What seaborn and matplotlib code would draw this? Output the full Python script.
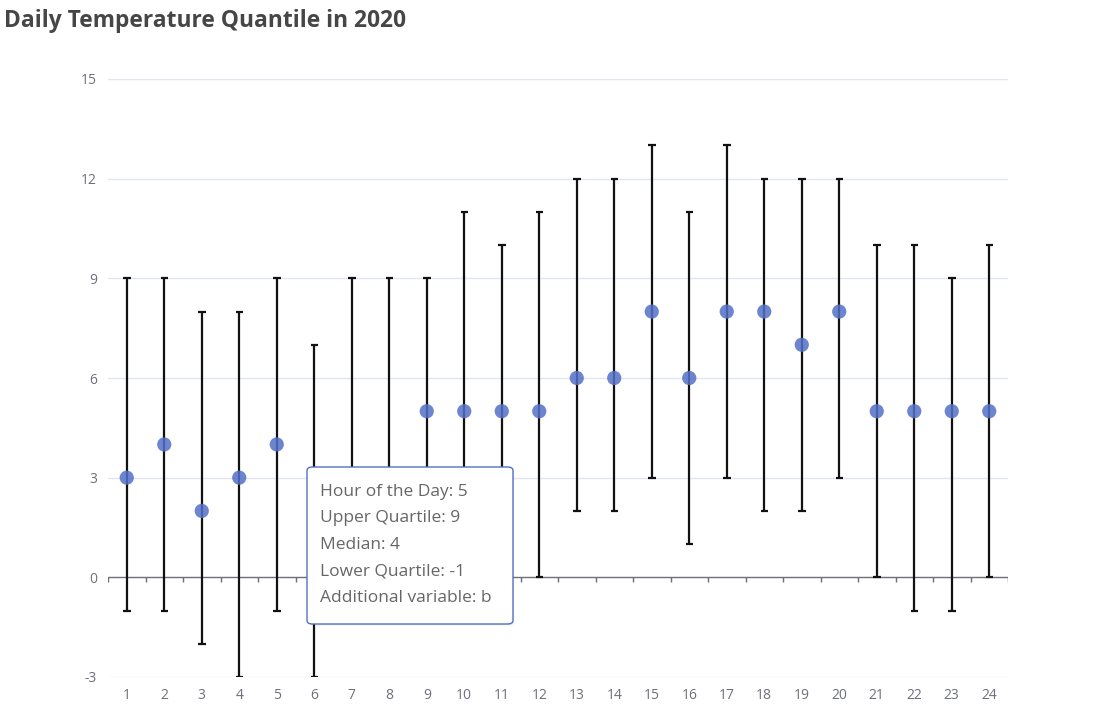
import numpy as np
import pandas as pd
import seaborn as sns
import matplotlib.pyplot as plt
from matplotlib.patches import FancyBboxPatch

# data (hours 6-11 partly hidden by the tooltip, estimated)
hours = list(range(1, 25))
upper = [9, 9, 8, 8, 9, 7, 9, 9, 9, 11, 10, 11, 12, 12, 13, 11, 13, 12, 12, 12, 10, 10, 9, 10]
median = [3, 4, 2, 3, 4, 2, 3, 3, 5, 5, 5, 5, 6, 6, 8, 6, 8, 8, 7, 8, 5, 5, 5, 5]
lower = [-1, -1, -2, -3, -1, -3, -1, -1, 1, 0, 0, 0, 2, 2, 3, 1, 3, 2, 2, 3, 0, -1, -1, 0]
y_ticks = [-3, 0, 3, 6, 9, 12, 15]

tooltip_lines = [
    "Hour of the Day: 5",
    "Upper Quartile: 9",
    "Median: 4",
    "Lower Quartile: -1",
    "Additional variable: b",
]


def main():
    df = pd.DataFrame({"hour": hours, "upper": upper, "median": median, "lower": lower})

    sns.set_style("white")
    plt.rcParams["font.family"] = ["Open Sans", "DejaVu Sans"]

    fig = plt.figure(figsize=(11.11, 7.19), dpi=100)
    ax = fig.add_axes([108 / 1111, 1 - 677 / 719, 900 / 1111, (677 - 79) / 719])

    # grid lines
    for t in y_ticks:
        if t != 0:
            ax.axhline(t, color="#E0E6F1", lw=1, zorder=0)

    # zero axis line with boundary ticks
    ax.axhline(0, color="#6E7079", lw=1, zorder=1)
    edges = np.arange(0.5, 25, 1)
    ax.vlines(edges, 0, -0.15, color="#6E7079", lw=1, zorder=1)

    # quartile range bars with caps
    ax.vlines(df["hour"], df["lower"], df["upper"], color="#111111", lw=1.6, zorder=2)
    ax.hlines(df["upper"], df["hour"] - 0.1, df["hour"] + 0.1, color="#111111", lw=1.6, zorder=2)
    ax.hlines(df["lower"], df["hour"] - 0.1, df["hour"] + 0.1, color="#111111", lw=1.6, zorder=2)

    # median points
    sns.scatterplot(data=df, x="hour", y="median", ax=ax, s=105, color="#5470C6",
                    alpha=0.85, edgecolor="none", zorder=3, legend=False)

    ax.set_xlim(0.5, 24.5)
    ax.set_ylim(-3, 15)
    ax.set_xticks(hours)
    ax.set_xticklabels([str(h) for h in hours])
    ax.set_yticks(y_ticks)
    ax.set_yticklabels([str(t) for t in y_ticks])
    ax.tick_params(axis="x", length=0, pad=8, labelsize=10, labelcolor="#6E7079")
    ax.tick_params(axis="y", length=0, pad=8, labelsize=10, labelcolor="#6E7079")
    ax.set_xlabel("")
    ax.set_ylabel("")
    for s in ax.spines.values():
        s.set_visible(False)

    fig.text(4 / 1111, 1 - 21 / 719, "Daily Temperature Quantile in 2020", fontsize=16.4,
             fontweight="bold", color="#464646", ha="left", va="center")

    # tooltip
    W, H = 1111, 719
    x0, y0, x1, y1 = 307, 467, 513, 624
    shadow = FancyBboxPatch((x0 / W + 0.001, 1 - y1 / H - 0.002), (x1 - x0) / W, (y1 - y0) / H,
                            boxstyle="round,pad=0,rounding_size=0.005", transform=fig.transFigure,
                            facecolor="#000000", alpha=0.08, edgecolor="none", zorder=9)
    box = FancyBboxPatch((x0 / W, 1 - y1 / H), (x1 - x0) / W, (y1 - y0) / H,
                         boxstyle="round,pad=0,rounding_size=0.005", transform=fig.transFigure,
                         facecolor="white", edgecolor="#5470C6", lw=1, zorder=10)
    fig.patches.extend([shadow, box])
    for i, line in enumerate(tooltip_lines):
        fig.text(320 / W, 1 - (492 + i * 26.5) / H, line, fontsize=12.5, color="#666666",
                 ha="left", va="center", zorder=11)

    fig.savefig("out.png", dpi=100)


if __name__ == "__main__":
    main()
